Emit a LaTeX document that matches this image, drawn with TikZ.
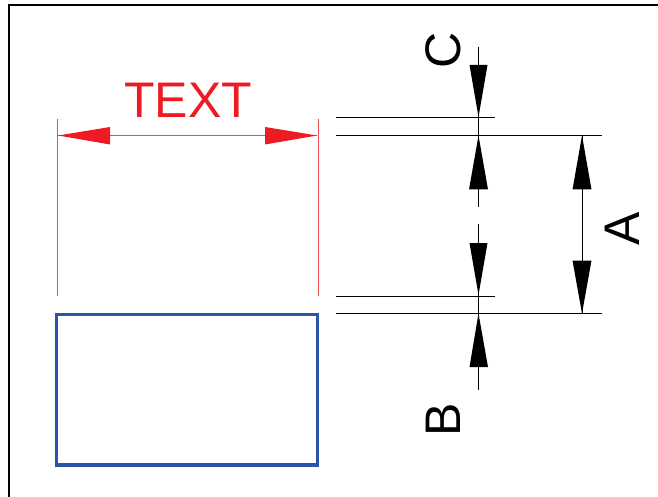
\documentclass[tikz,border=0pt]{standalone}
\usepackage{fontspec}
\setmainfont{Liberation Sans}
\definecolor{dimred}{HTML}{ED1C24}
\definecolor{boxblue}{HTML}{2A55A5}
\tikzset{
  x=1pt,y=-1pt,
  redline/.style={draw=dimred!80,line width=1pt},
  blackline/.style={draw=black,line width=1pt},
  redhead/.style={fill=dimred,draw=none},
  blackhead/.style={fill=black,draw=none},
  dimtext/.style={font=\fontsize{50}{50}\selectfont,inner sep=0pt,anchor=center},
}
\begin{document}
\begin{tikzpicture}
\useasboundingbox (0,0) rectangle (658,497);
\draw[black,line width=1.8pt] (9,497) -- (9,5) -- (658,5);
% red dimension
\coordinate (rl1) at (57.5,119); \coordinate (rl2) at (57.5,296);
\coordinate (rr1) at (318,119); \coordinate (rr2) at (318,296);
\coordinate (ra) at (58,135.5); \coordinate (rb) at (317,135.5);
\draw[redline] (rl1) -- (rl2);
\draw[redline] (rr1) -- (rr2);
\draw[redline] (ra) -- (rb);
\fill[redhead] (ra) -- (110,127) -- (110,144.5) -- cycle;
\fill[redhead] (rb) -- (265,127) -- (265,144.5) -- cycle;
\node[dimtext,text=dimred] (tt) at (188,100) {TEXT};
% blue rectangle
\draw[boxblue,line width=3.6pt] (56.5,314.5) rectangle (317.5,465);
% black extension lines
\draw[blackline] (336,118) -- (495,118);
\draw[blackline] (336,135.5) -- (602,135.5);
\draw[blackline] (336,296) -- (495,296);
\draw[blackline] (336,313.5) -- (602,313.5);
% centre dims
\draw[blackline] (478.5,47) -- (478.5,207);
\draw[blackline] (478.5,224) -- (478.5,390);
\draw[blackline] (582,135.5) -- (582,313.5);
% heads
\fill[blackhead] (478.5,117) -- (469.5,65) -- (487.5,65) -- cycle;
\fill[blackhead] (478.5,135.5) -- (469,189.5) -- (488,189.5) -- cycle;
\fill[blackhead] (478.5,295) -- (469.5,243) -- (487.5,243) -- cycle;
\fill[blackhead] (478.5,313.5) -- (469.5,367) -- (488,367) -- cycle;
\fill[blackhead] (582,135.5) -- (572.5,189.5) -- (591.5,189.5) -- cycle;
\fill[blackhead] (582,313.5) -- (572.5,260.5) -- (591.5,260.5) -- cycle;
% labels
\node[dimtext,rotate=90] (lc) at (443,50) {C};
\node[dimtext,rotate=90] (la) at (622.5,229) {A};
\node[dimtext,rotate=90] (lb) at (443.5,420) {B};
\end{tikzpicture}
\end{document}
